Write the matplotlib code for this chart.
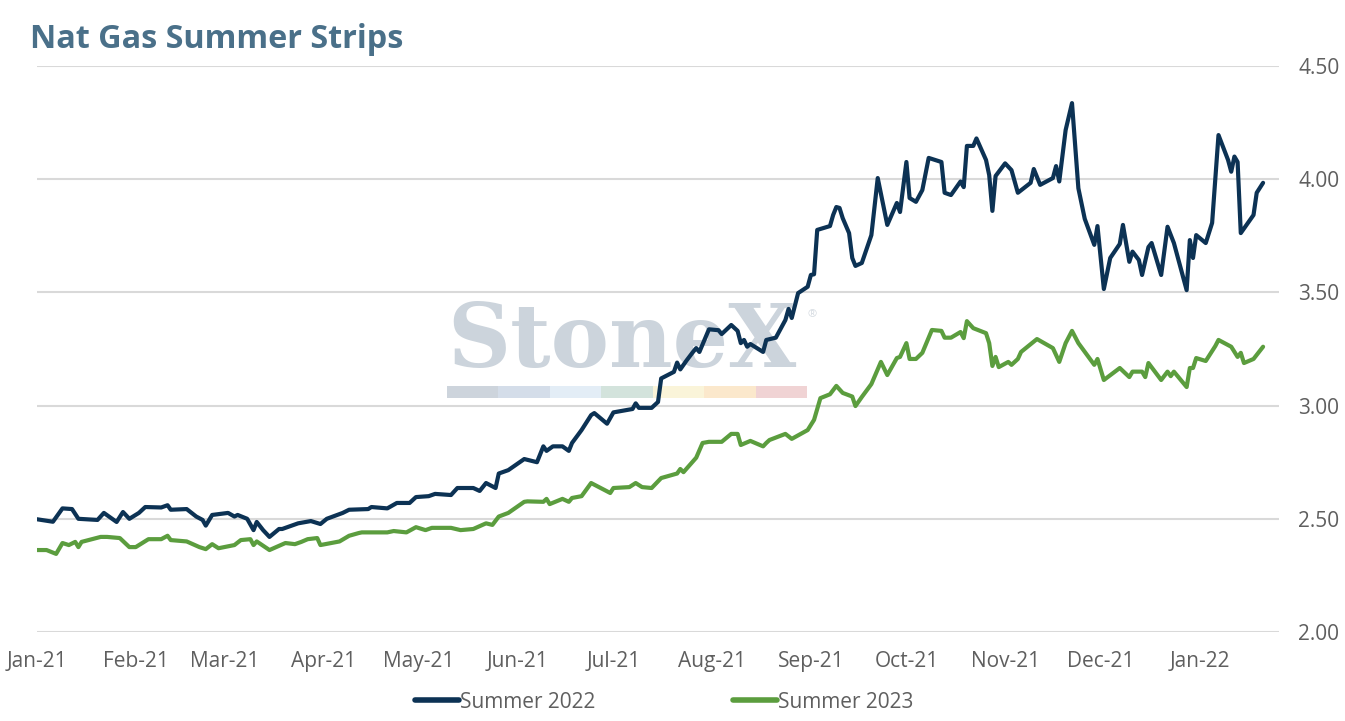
import matplotlib
matplotlib.use("Agg")
import matplotlib.pyplot as plt
import matplotlib.dates as mdates
from matplotlib.patches import Rectangle
import pandas as pd

# ---------------- data ----------------
start_date = "2021-01-01"

s22_days = [0, 5, 8, 11, 13, 19, 21, 25, 27, 29, 32, 34, 39, 41, 42, 47, 50, 52, 53, 55,
            60, 62, 63, 66, 68, 69, 71, 73, 76, 77, 82, 86, 89, 91, 96, 98, 104, 105, 110, 113,
            117, 119, 123, 125, 130, 132, 137, 139, 141, 144, 145, 148, 153, 157, 159, 160, 162, 165, 167, 168,
            171, 174, 175, 179, 181, 187, 188, 189, 193, 195, 196, 200, 201, 202, 204, 206, 207, 208, 211, 214,
            215, 218, 220, 221, 222, 223, 224, 228, 229, 232, 235, 236, 237, 239, 242, 243, 244, 245, 249, 250,
            251, 252, 253, 255, 256, 257, 259, 262, 264, 267, 270, 271, 273, 274, 276, 278, 280, 284, 285, 287,
            290, 291, 292, 294, 295, 298, 299, 300, 301, 304, 306, 308, 312, 313, 315, 319, 320, 321, 323, 325,
            327, 329, 332, 333, 335, 337, 340, 341, 343, 344, 346, 347, 349, 350, 353, 355, 357, 361, 362, 363,
            364, 367, 369, 371, 374, 375, 376, 377, 378, 382, 383, 385]
s22_vals = [2.498, 2.487, 2.546, 2.543, 2.50, 2.495, 2.526, 2.486, 2.53, 2.50, 2.526, 2.552, 2.55, 2.56, 2.54, 2.543, 2.51, 2.495, 2.47, 2.517,
            2.526, 2.51, 2.517, 2.50, 2.45, 2.486, 2.45, 2.42, 2.455, 2.455, 2.48, 2.49, 2.477, 2.50, 2.526, 2.54, 2.543, 2.552, 2.546, 2.57,
            2.57, 2.596, 2.60, 2.61, 2.605, 2.636, 2.636, 2.623, 2.658, 2.636, 2.70, 2.715, 2.764, 2.75, 2.82, 2.80, 2.82, 2.82, 2.80, 2.835,
            2.892, 2.958, 2.967, 2.92, 2.97, 2.985, 3.01, 2.99, 2.99, 3.016, 3.12, 3.149, 3.19, 3.16, 3.20, 3.237, 3.254, 3.237, 3.337, 3.333,
            3.316, 3.356, 3.33, 3.276, 3.29, 3.26, 3.272, 3.237, 3.29, 3.30, 3.378, 3.427, 3.387, 3.497, 3.525, 3.577, 3.58, 3.776, 3.793, 3.842,
            3.877, 3.873, 3.828, 3.762, 3.652, 3.617, 3.63, 3.753, 4.005, 3.798, 3.895, 3.855, 4.076, 3.917, 3.90, 3.952, 4.094, 4.076, 3.94, 3.93,
            3.99, 3.965, 4.147, 4.147, 4.18, 4.085, 4.018, 3.86, 4.014, 4.07, 4.04, 3.94, 3.984, 4.045, 3.975, 4.005, 4.058, 3.99, 4.217, 4.336,
            3.96, 3.825, 3.71, 3.793, 3.515, 3.652, 3.714, 3.798, 3.635, 3.68, 3.643, 3.577, 3.70, 3.718, 3.577, 3.79, 3.718, 3.51, 3.731, 3.652,
            3.753, 3.718, 3.807, 4.195, 4.085, 4.033, 4.10, 4.076, 3.762, 3.842, 3.94, 3.984]

s23_days = [0, 3, 6, 8, 10, 12, 13, 14, 20, 22, 26, 29, 31, 35, 39, 41, 42, 47, 51, 53,
            55, 57, 62, 64, 67, 68, 69, 73, 78, 81, 83, 85, 88, 89, 95, 98, 101, 102, 110, 112,
            116, 119, 122, 124, 130, 133, 137, 141, 143, 145, 148, 153, 154, 159, 160, 161, 165, 167, 168, 171,
            174, 180, 181, 186, 188, 190, 193, 196, 201, 202, 203, 207, 209, 211, 215, 218, 220, 221, 224, 228,
            229, 230, 235, 237, 242, 244, 246, 249, 251, 253, 256, 257, 259, 262, 265, 267, 270, 271, 273, 274,
            276, 278, 281, 284, 285, 287, 290, 291, 292, 294, 298, 299, 300, 301, 302, 305, 306, 308, 309, 314,
            319, 321, 323, 325, 327, 332, 333, 335, 340, 343, 344, 347, 348, 349, 353, 355, 356, 357, 361, 362,
            363, 364, 367, 370, 371, 375, 377, 378, 379, 382, 385]
s23_vals = [2.362, 2.362, 2.345, 2.393, 2.384, 2.398, 2.375, 2.398, 2.42, 2.42, 2.415, 2.375, 2.375, 2.41, 2.41, 2.425, 2.406, 2.40, 2.375, 2.366,
            2.388, 2.37, 2.384, 2.406, 2.41, 2.384, 2.40, 2.362, 2.393, 2.388, 2.398, 2.41, 2.415, 2.384, 2.40, 2.425, 2.437, 2.44, 2.44, 2.446,
            2.44, 2.463, 2.45, 2.46, 2.46, 2.45, 2.455, 2.48, 2.473, 2.51, 2.526, 2.575, 2.577, 2.575, 2.588, 2.565, 2.588, 2.575, 2.592, 2.60,
            2.658, 2.614, 2.636, 2.64, 2.658, 2.64, 2.636, 2.68, 2.70, 2.72, 2.706, 2.77, 2.835, 2.84, 2.84, 2.875, 2.875, 2.826, 2.844, 2.82,
            2.835, 2.848, 2.875, 2.853, 2.892, 2.937, 3.033, 3.05, 3.087, 3.056, 3.04, 2.998, 3.038, 3.095, 3.193, 3.135, 3.21, 3.215, 3.276, 3.206,
            3.206, 3.233, 3.334, 3.33, 3.30, 3.30, 3.325, 3.298, 3.373, 3.342, 3.32, 3.276, 3.175, 3.215, 3.17, 3.193, 3.18, 3.206, 3.237, 3.294,
            3.254, 3.193, 3.276, 3.33, 3.276, 3.18, 3.206, 3.113, 3.166, 3.126, 3.15, 3.15, 3.126, 3.188, 3.113, 3.15, 3.13, 3.15, 3.082, 3.166,
            3.166, 3.21, 3.197, 3.263, 3.29, 3.26, 3.215, 3.233, 3.188, 3.206, 3.26]

series_names = ["Summer 2022", "Summer 2023"]
series_colors = ["#0c3254", "#5b9d3e"]
y_ticks = [2.00, 2.50, 3.00, 3.50, 4.00, 4.50]
title_text = "Nat Gas Summer Strips"
watermark_text = "StoneX"
watermark_bar_colors = ["#cdd4dc", "#d4dde9", "#e3edf6", "#d3e3dc", "#faf4d9", "#fbe8cc", "#f0d3d4"]

# ---------------- figure ----------------
FONT = "Open Sans"
plt.rcParams["font.family"] = [FONT, "DejaVu Sans"]

base = pd.Timestamp(start_date)
d22 = base + pd.to_timedelta(s22_days, unit="D")
d23 = base + pd.to_timedelta(s23_days, unit="D")

fig = plt.figure(figsize=(13.45, 7.21), dpi=100)
ax = fig.add_axes([37 / 1345, 89 / 721, (1279 - 37) / 1345, (632 - 66) / 721])

# watermark (behind lines)
fig.text(447 / 1345, (721 - 367) / 721, watermark_text, family="DejaVu Serif",
         fontweight="bold", fontsize=63, color="#ccd4dc", ha="left", va="baseline", zorder=0)
fig.text(808 / 1345, (721 - 317) / 721, "\u00ae", fontsize=8, color="#d5dbe1",
         ha="left", va="baseline", zorder=0)
seg_w = (807 - 447) / len(watermark_bar_colors)
for i, c in enumerate(watermark_bar_colors):
    fig.add_artist(Rectangle(((447 + i * seg_w) / 1345, (721 - 398) / 721),
                             seg_w / 1345, 12 / 721, transform=fig.transFigure,
                             facecolor=c, edgecolor="none", zorder=0))
ax.set_facecolor("none")
ax.set_zorder(2)

ax.plot(d22, s22_vals, color=series_colors[0], lw=3.0, label=series_names[0],
        solid_joinstyle="round", solid_capstyle="round", zorder=3)
ax.plot(d23, s23_vals, color=series_colors[1], lw=3.0, label=series_names[1],
        solid_joinstyle="round", solid_capstyle="round", zorder=3)

ax.set_ylim(2.0, 4.5)
ax.set_xlim(base, base + pd.Timedelta(days=390))
ax.set_yticks(y_ticks)
ax.set_yticklabels([f"{v:.2f}" for v in y_ticks])
ax.yaxis.tick_right()
ax.grid(axis="y", color="#d9d9d9", lw=1.5, zorder=1)
ax.set_axisbelow(True)
for s in ax.spines.values():
    s.set_visible(False)

ax.xaxis.set_major_locator(mdates.MonthLocator())
ax.xaxis.set_major_formatter(mdates.DateFormatter("%b-%y"))
ax.tick_params(axis="x", length=0, pad=14, labelsize=15, labelcolor="#5f5f5f")
ax.tick_params(axis="y", length=0, pad=14, labelsize=15, labelcolor="#5f5f5f")

fig.text(30 / 1345, (721 - 48) / 721, title_text, fontsize=23.3, fontweight="bold",
         color="#4a7089", ha="left", va="baseline")

leg = fig.legend(loc="center", bbox_to_anchor=(664 / 1345, (721 - 702) / 721), ncol=2,
                 frameon=False, fontsize=15, handlelength=2.1, handletextpad=0.05,
                 columnspacing=6.6, borderaxespad=0)
for t in leg.get_texts():
    t.set_color("#5f5f5f")
for h in leg.legend_handles:
    h.set_linewidth(4)

fig.savefig("out.png", dpi=100)
